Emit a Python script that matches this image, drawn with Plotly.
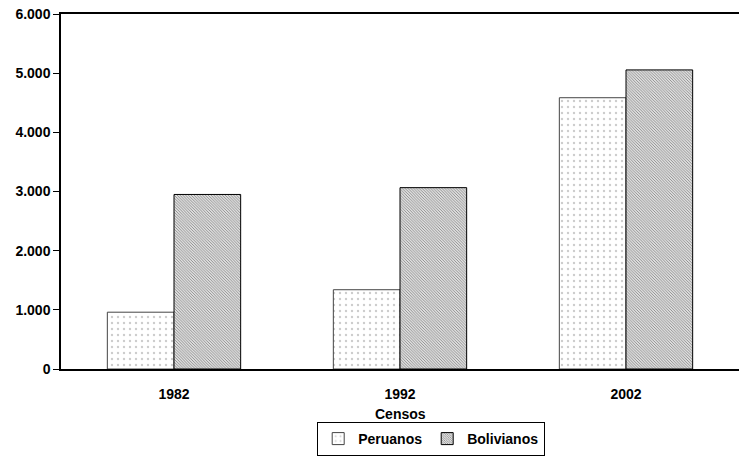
import plotly.graph_objects as go

censos = ["1982", "1992", "2002"]
peruanos = [960, 1340, 4585]
bolivianos = [2950, 3065, 5055]
y_ticks = [0, 1000, 2000, 3000, 4000, 5000, 6000]

FONT = dict(family="Liberation Sans, Arial, sans-serif", size=14, color="black", weight="bold")

fig = go.Figure()
fig.add_trace(go.Bar(
    name="Peruanos", x=censos, y=peruanos,
    marker=dict(color="white", line=dict(color="#444", width=1),
                pattern=dict(shape=".", size=6, solidity=0.12, fgcolor="#999", bgcolor="white")),
))
fig.add_trace(go.Bar(
    name="Bolivianos", x=censos, y=bolivianos,
    marker=dict(color="white", line=dict(color="black", width=1),
                pattern=dict(shape="\\", size=2, solidity=0.5, fgcolor="#111", bgcolor="white")),
))

fig.update_layout(
    width=739, height=456,
    margin=dict(l=61, r=0, t=14, b=87, autoexpand=False),
    paper_bgcolor="white", plot_bgcolor="white",
    font=FONT,
    separators=",.",
    barmode="group", bargap=0.41, bargroupgap=0,
    showlegend=True,
    legend=dict(orientation="h", x=0.546, xanchor="center",
                yref="container", y=0.0, yanchor="bottom",
                bordercolor="black", borderwidth=1, font=FONT,
                itemwidth=30, tracegroupgap=0),
    annotations=[dict(text="Censos", xref="paper", yref="paper", x=0.5, y=-0.128,
                      xanchor="center", yanchor="middle", showarrow=False, font=FONT)],
)
fig.update_xaxes(
    showline=True, linecolor="black", linewidth=1.5, mirror=True,
    ticks="", ticklabelstandoff=11, showgrid=False,
    tickfont=FONT,
)
fig.update_yaxes(
    range=[0, 6000], tickvals=y_ticks, tickformat=",",
    showline=True, linecolor="black", linewidth=1.5,
    ticks="outside", ticklen=6, tickcolor="black",
    showgrid=False, zeroline=False, tickfont=FONT,
)

fig.write_html("out.html")
